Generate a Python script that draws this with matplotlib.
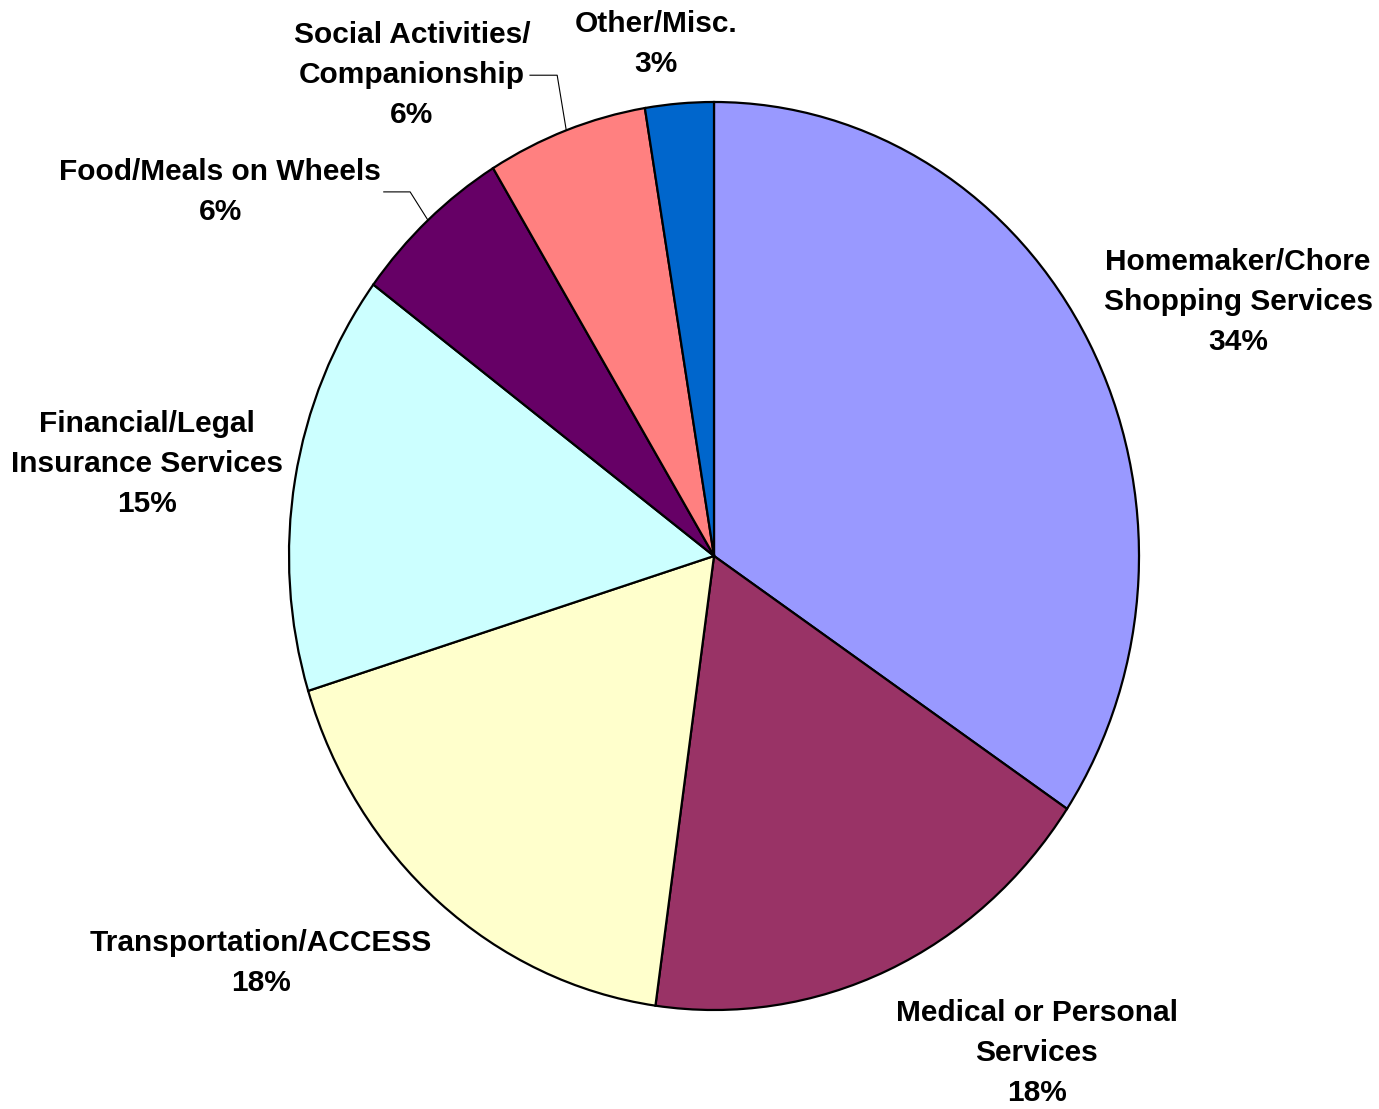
import numpy as np
import matplotlib.pyplot as plt

# Datos del gráfico (porcentajes estimados)
categorias = ['Homemaker/Chore\nShopping Services', 'Medical or Personal\nServices',
              'Transportation/ACCESS', 'Financial/Legal\nInsurance Services',
              'Food/Meals on Wheels', 'Social Activities/\nCompanionship', 'Other/Misc.']
valores = [34.4, 17.8, 18.0, 15.0, 6.1, 6.1, 2.6]
colores = ['#9999FF', '#993366', '#FFFFCC', '#CCFFFF', '#660066', '#FF8080', '#0066CC']

# Posiciones de las etiquetas (coordenadas del eje)
pos_etiquetas = [(1.233, 0.559), (0.759, -1.095), (-1.066, -0.896), (-1.334, 0.203),
                 (-1.162, 0.802), (-0.711, 1.059), (-0.136, 1.128)]

plt.rcParams['font.family'] = ['Liberation Sans', 'DejaVu Sans']

fig = plt.figure(figsize=(13.79, 11.09), dpi=100)
ax = fig.add_axes([289 / 1379, 99 / 1109, 850 / 1379, 908 / 1109])

wedges, _ = ax.pie(valores, colors=colores, startangle=90, counterclock=False,
                   wedgeprops=dict(edgecolor='black', linewidth=1.6))
ax.set_aspect('auto')
ax.set_xlim(-1, 1)
ax.set_ylim(-1, 1)

total = sum(valores)
for i, (cat, (x, y)) in enumerate(zip(categorias, pos_etiquetas)):
    pct = round(valores[i] / total * 100)
    ax.text(x, y, f'{cat}\n{pct}%', ha='center', va='center', fontsize=21.5,
            fontweight='bold', linespacing=1.55, clip_on=False)


# Líneas guía para Food y Social
def guia(i, x_ini, x_codo, y):
    w = wedges[i]
    ang = np.deg2rad((w.theta1 + w.theta2) / 2)
    ex, ey = np.cos(ang), np.sin(ang)
    ax.plot([x_ini, x_codo, ex], [y, y, ey], color='black', linewidth=0.8, clip_on=False)


guia(4, -0.777, -0.715, 0.802)
guia(5, -0.433, -0.369, 1.059)

plt.savefig('out.png', dpi=100)
